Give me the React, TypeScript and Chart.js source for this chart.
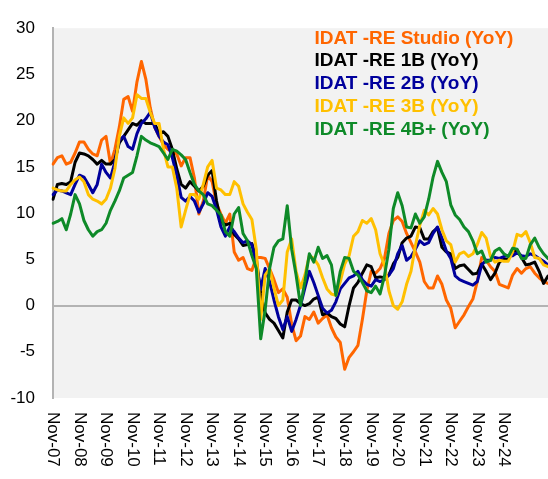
import React, { useEffect, useRef } from "react";
import { Chart, registerables } from "chart.js";

Chart.register(...registerables);

// ---- categories: bi-monthly points starting Nov-07 ----
const MONTH_NAMES = ["Jan", "Feb", "Mar", "Apr", "May", "Jun", "Jul", "Aug", "Sep", "Oct", "Nov", "Dec"];
const START_MONTH = 10; // Nov
const START_YEAR = 2007;
const POINT_COUNT = 113;
const STEP_MONTHS = 2;
const categories: string[] = Array.from({ length: POINT_COUNT }, (_, i) => {
  const t = START_MONTH + i * STEP_MONTHS;
  const mo = t % 12;
  const yr = START_YEAR + Math.floor(t / 12);
  return `${MONTH_NAMES[mo]}-${String(yr % 100).padStart(2, "0")}`;
});

const xTickLabels = [
  "Nov-07", "Nov-08", "Nov-09", "Nov-10", "Nov-11", "Nov-12", "Nov-13", "Nov-14", "Nov-15",
  "Nov-16", "Nov-17", "Nov-18", "Nov-19", "Nov-20", "Nov-21", "Nov-22", "Nov-23", "Nov-24",
];

const yMin = -10;
const yMax = 30;
const yStep = 5;

const seriesNames = [
  "IDAT -RE Studio (YoY)",
  "IDAT -RE 1B (YoY)",
  "IDAT -RE 2B (YoY)",
  "IDAT -RE 3B (YoY)",
  "IDAT -RE 4B+ (YoY)",
];
const seriesColors = ["#ff6600", "#000000", "#00009c", "#ffc000", "#0e8a28"];

const studio = [
  15.3, 16.0, 16.2, 15.3, 15.5, 16.5, 17.7, 17.7, 16.9, 16.4, 16.2, 17.9, 18.3, 15.3, 16.9, 19.3, 22.3, 22.6, 21.0, 24.2, 26.4, 24.5, 21.4,
  19.3, 18.3, 17.4, 16.9, 16.7, 16.4, 15.1, 16.0, 16.0, 13.8, 9.9, 11.3, 14.1, 13.4, 11.0, 9.9, 8.9, 9.9, 5.8, 4.9, 5.2, 4.0, 3.8,
  5.2, 5.2, 5.1, 4.0, 2.8, 1.4, 1.8, 0.9, -2.0, -3.8, -3.3, -1.2, -1.5, -0.7, -1.9, -1.4, -1.0, -2.4, -3.4, -4.0, -6.9, -5.6,
  -5.0, -4.3, -1.5, 1.6, 3.7, 3.5, 4.0, 5.1, 7.8, 9.2, 9.6, 9.1, 7.8, 6.8, 5.8, 4.7, 2.6, 1.9, 1.9, 3.2, 2.3, 0.6,
  -0.3, -2.4, -1.7, -1.0, -0.1, 0.7, 2.6, 5.2, 4.9, 4.2, 3.7, 2.3, 2.1, 1.9, 3.3, 4.0, 3.5, 4.0, 4.2, 3.5, 3.0, 2.6, 2.4,
];
const oneBed = [
  11.5, 13.1, 13.2, 13.1, 13.4, 15.5, 16.5, 16.4, 16.2, 15.8, 15.3, 15.7, 15.3, 15.3, 15.8, 17.6, 18.3, 19.0, 19.7, 19.5, 20.0, 19.7, 19.7,
  19.7, 18.6, 18.8, 18.3, 16.9, 14.8, 13.1, 12.7, 13.4, 12.9, 12.4, 12.9, 14.1, 14.6, 11.3, 9.1, 8.7, 8.9, 7.7, 7.2, 6.5, 6.6, 6.7,
  5.1, 1.25, -0.8, -1.5, -1.9, -2.7, -3.5, -0.7, 0.6, 0.6, 0.2, 0.0, 0.2, 0.7, 0.9, -1.0, -0.8, -1.2, -1.4, -2.0, -2.3, 0.0,
  1.9, 2.5, 3.5, 4.4, 4.2, 3.0, 3.1, 3.0, 3.3, 4.5, 5.2, 6.8, 7.3, 7.5, 8.5, 8.4, 7.2, 7.2, 8.0, 8.4, 6.3, 5.8,
  5.6, 4.0, 4.3, 4.4, 3.9, 3.4, 3.5, 4.5, 3.7, 2.8, 3.5, 4.7, 5.0, 5.0, 5.8, 6.0, 5.2, 4.4, 4.5, 4.7, 3.7, 2.4, 3.2,
];
const twoBed = [
  12.0, 12.5, 12.4, 12.2, 12.0, 13.1, 14.1, 13.9, 13.1, 12.2, 13.1, 15.3, 14.4, 13.8, 15.5, 17.9, 18.3, 17.2, 16.9, 18.6, 19.7, 20.2, 20.9,
  19.3, 18.3, 17.7, 17.4, 16.0, 14.1, 11.7, 11.3, 11.8, 11.3, 10.1, 11.0, 12.2, 11.8, 10.4, 8.5, 7.5, 8.5, 8.0, 7.3, 6.8, 7.0, 6.6,
  4.4, 1.8, 4.0, 2.6, 0.6, -1.2, -2.6, -1.2, -2.8, -1.5, 0.0, 1.9, 3.7, 2.5, 1.1, -0.3, -0.8, -0.5, 0.4, 1.8, 2.4, 3.0,
  3.2, 3.7, 2.8, 2.3, 2.1, 2.8, 2.6, 2.8, 3.3, 4.0, 5.6, 6.5, 4.9, 5.3, 6.1, 7.0, 6.6, 6.8, 7.8, 8.5, 7.3, 5.9,
  5.1, 3.2, 2.8, 2.6, 2.4, 2.2, 2.6, 4.4, 4.9, 4.9, 5.2, 5.1, 5.3, 5.4, 5.4, 5.7, 5.4, 5.3, 5.6, 5.4, 5.1, 4.8, 4.4,
];
const threeBed = [
  12.7, 12.5, 12.4, 12.4, 13.1, 13.6, 13.9, 13.4, 12.0, 11.5, 11.3, 11.0, 11.5, 12.7, 14.8, 18.3, 20.3, 19.7, 20.3, 22.8, 22.4, 22.4, 20.9,
  19.7, 19.7, 16.9, 15.0, 15.0, 12.7, 8.5, 10.3, 12.0, 12.0, 11.5, 13.1, 15.0, 15.7, 12.7, 12.5, 12.0, 12.0, 13.4, 12.9, 11.0, 10.1, 9.3,
  6.1, -1.5, 3.3, 4.0, 1.9, 0.0, 0.6, 5.8, 7.2, 3.7, 1.9, 3.3, 5.4, 5.1, 4.4, 3.0, 1.8, 1.25, 1.1, 2.6, 4.5, 5.4,
  7.5, 8.0, 9.2, 8.9, 9.4, 8.2, 5.6, 4.4, 1.6, 0.0, -0.4, 0.4, 2.3, 3.7, 6.5, 8.7, 10.3, 9.8, 10.5, 9.9, 8.2, 7.0,
  6.6, 4.7, 5.6, 5.8, 5.3, 5.6, 6.6, 7.9, 7.3, 5.3, 4.7, 4.9, 4.8, 4.8, 5.8, 7.7, 7.5, 8.0, 6.8, 5.2, 5.1, 4.4, 4.2,
];
const fourBedPlus = [
  8.9, 9.1, 9.4, 8.2, 9.9, 12.0, 11.0, 9.2, 8.2, 7.5, 8.0, 8.2, 8.9, 10.3, 11.3, 12.4, 13.8, 14.1, 14.4, 16.2, 18.3, 17.9, 17.6,
  17.4, 17.2, 16.5, 15.8, 16.9, 16.7, 16.3, 15.8, 14.4, 13.1, 12.4, 12.0, 11.0, 10.8, 10.3, 9.8, 8.0, 7.5, 9.9, 10.6, 7.8, 7.0, 5.4,
  4.0, -3.6, -0.5, 4.0, 6.3, 7.0, 7.2, 10.8, 6.1, 3.3, 0.0, 2.6, 5.6, 4.7, 6.3, 5.1, 5.4, 4.4, 1.1, 3.7, 5.2, 5.1,
  3.7, 3.3, 2.5, 1.6, 1.4, 2.1, 1.25, 3.2, 6.1, 10.5, 12.2, 10.8, 8.5, 8.4, 9.9, 8.9, 9.6, 11.5, 13.9, 15.6, 14.4, 13.4,
  10.9, 9.8, 9.3, 8.5, 8.0, 7.0, 5.6, 5.9, 4.7, 4.9, 5.9, 6.2, 5.6, 5.3, 6.2, 6.1, 5.1, 5.1, 6.6, 7.3, 6.3, 5.6, 5.1,
];

const seriesData = [studio, oneBed, twoBed, threeBed, fourBedPlus];
const FONT = "'Liberation Sans', Arial, sans-serif";

export default function App() {
  const canvasRef = useRef<HTMLCanvasElement | null>(null);

  useEffect(() => {
    document.body.style.margin = "0";
    const canvas = canvasRef.current;
    if (!canvas) return;

    const decorPlugin = {
      id: "decor",
      beforeDraw(chart: any) {
        const { ctx, chartArea } = chart;
        ctx.save();
        ctx.fillStyle = "#f2f2f2";
        ctx.fillRect(chartArea.left, chartArea.top, chartArea.right - chartArea.left, chartArea.bottom - chartArea.top);
        ctx.restore();
      },
      afterDraw(chart: any) {
        const { ctx, chartArea } = chart;
        const xs = chart.scales.x;
        ctx.save();
        // rotated x labels (reading top to bottom)
        ctx.fillStyle = "#000";
        ctx.font = `17px ${FONT}`;
        ctx.textAlign = "left";
        ctx.textBaseline = "middle";
        xTickLabels.forEach((lab) => {
          const idx = categories.indexOf(lab);
          if (idx < 0) return;
          const x = xs.getPixelForValue(idx);
          ctx.save();
          ctx.translate(x, chartArea.bottom + 14);
          ctx.rotate(Math.PI / 2);
          ctx.fillText(lab, 0, 0);
          ctx.restore();
        });
        // legend
        ctx.font = `bold 19px ${FONT}`;
        ctx.textAlign = "left";
        ctx.textBaseline = "alphabetic";
        seriesNames.forEach((name, i) => {
          ctx.fillStyle = seriesColors[i];
          ctx.fillText(name, 314.5, 43.5 + i * 22.75);
        });
        ctx.restore();
      },
    };

    const chart = new Chart(canvas, {
      type: "line",
      data: {
        labels: categories,
        datasets: seriesNames.map((name, i) => ({
          label: name,
          data: seriesData[i],
          borderColor: seriesColors[i],
          backgroundColor: seriesColors[i],
          borderWidth: 3,
          pointRadius: 0,
          tension: 0,
          fill: false,
          borderJoinStyle: "round" as const,
          borderCapStyle: "round" as const,
          order: seriesNames.length - 1 - i,
        })),
      },
      options: {
        responsive: false,
        maintainAspectRatio: false,
        animation: false,
        devicePixelRatio: 1,
        layout: { padding: { top: 14, right: 0, bottom: 81, left: 0 } },
        plugins: {
          legend: { display: false },
          tooltip: { enabled: false },
        },
        scales: {
          x: {
            type: "category",
            display: false,
            offset: false,
          },
          y: {
            min: yMin,
            max: yMax,
            ticks: {
              stepSize: yStep,
              color: "#000",
              font: { size: 17, family: FONT },
              padding: 18,
            },
            grid: {
              drawTicks: false,
              lineWidth: 2,
              color: (c: any) => (c.tick && c.tick.value === 0 ? "#b3b3b3" : "rgba(0,0,0,0)"),
            },
            border: { display: true, color: "#b3b3b3", width: 2 },
            afterFit: (s: any) => {
              s.width = 53;
            },
          },
        },
      },
      plugins: [decorPlugin],
    });

    return () => chart.destroy();
  }, []);

  return (
    <div style={{ width: 548, height: 479, background: "#fff" }}>
      <canvas ref={canvasRef} width={548} height={479} style={{ display: "block" }} />
    </div>
  );
}
